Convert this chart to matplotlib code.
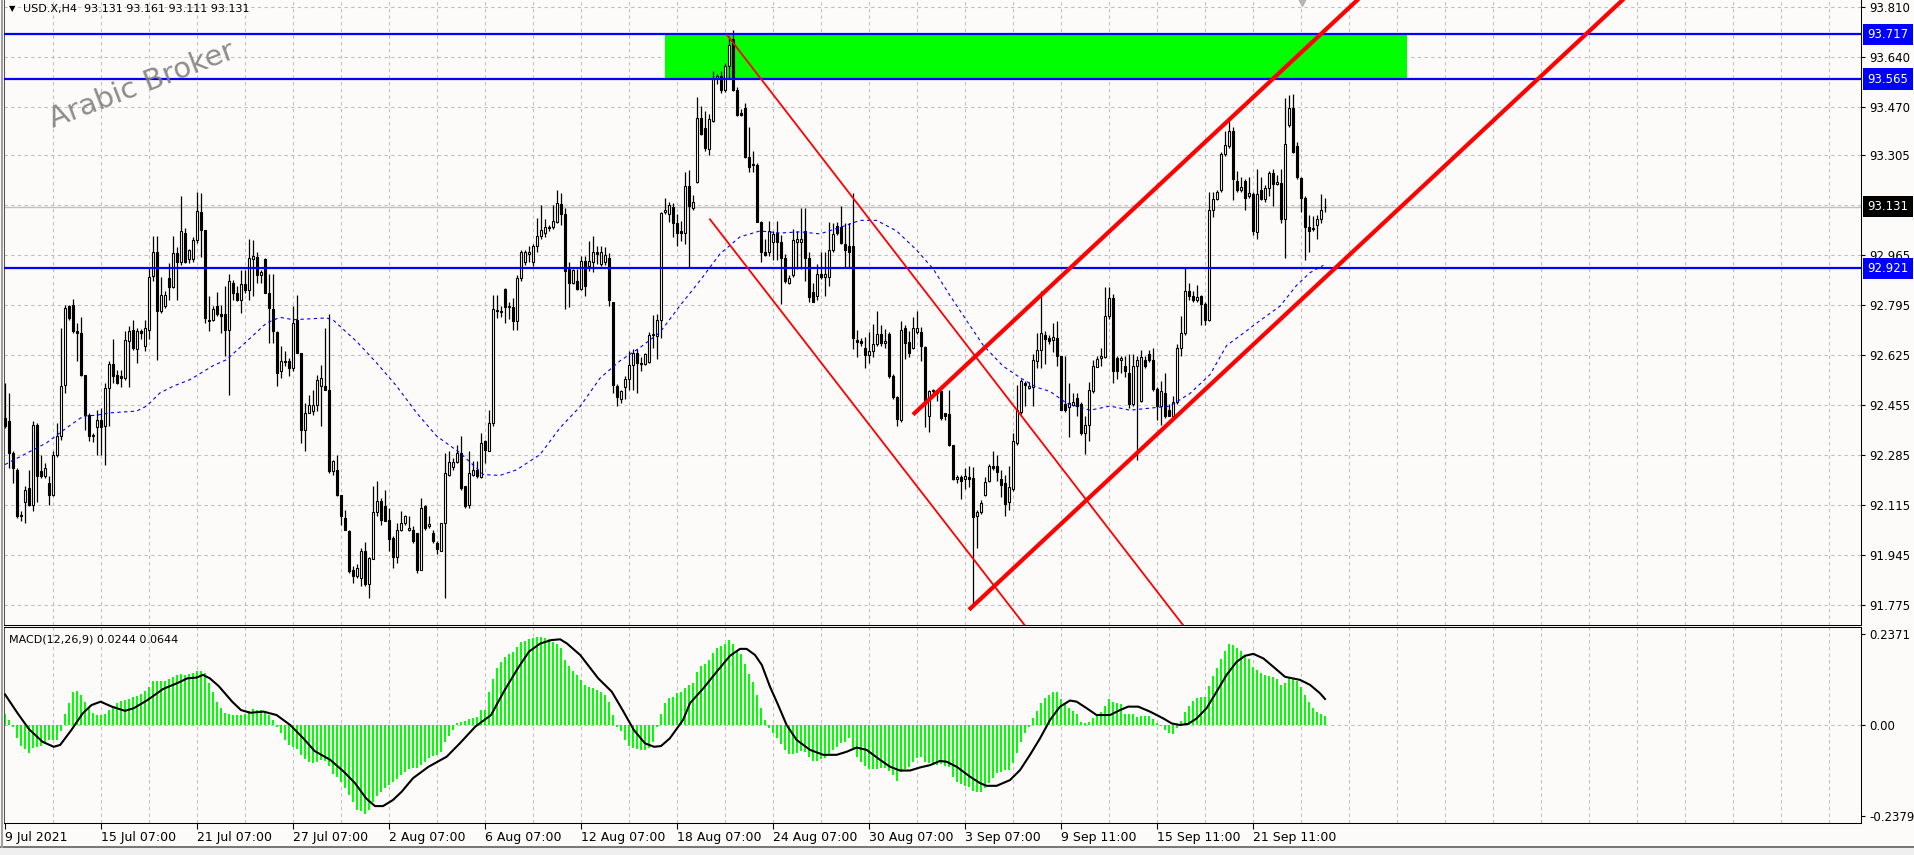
import matplotlib
matplotlib.use("Agg")
import matplotlib.pyplot as plt
import matplotlib.transforms as mtrans
from matplotlib.patches import Rectangle
import numpy as np

plt.rcParams['font.family'] = ['DejaVu Sans']

# ---------------- data (H4 bars, bar 0 = 9 Jul 2021) ----------------
opens = [
    92.412, 92.401, 92.291, 92.236, 92.083, 92.126, 92.172, 92.115, 92.386, 92.231,
    92.214, 92.191, 92.149, 92.284, 92.350, 92.525, 92.791, 92.795, 92.707, 92.701,
    92.559, 92.423, 92.350, 92.380, 92.406, 92.384, 92.512, 92.596, 92.559, 92.554,
    92.548, 92.675, 92.712, 92.646, 92.709, 92.656, 92.712, 92.896, 92.976, 92.774,
    92.791, 92.888, 92.857, 92.973, 92.942, 93.041, 92.953, 92.953, 93.016, 93.114,
    93.052, 92.746, 92.746, 92.794, 92.765, 92.765, 92.712, 92.871, 92.837, 92.814,
    92.867, 92.848, 92.952, 92.961, 92.899, 92.952, 92.837, 92.783, 92.703, 92.571,
    92.607, 92.607, 92.580, 92.746, 92.633, 92.372, 92.429, 92.435, 92.455, 92.520,
    92.520, 92.508, 92.231, 92.236, 92.149, 92.072, 92.027, 91.894, 91.874, 91.868,
    91.959, 91.845, 91.933, 92.092, 92.129, 92.112, 92.063, 92.004, 91.939, 92.032,
    92.055, 92.032, 92.032, 92.021, 91.894, 92.112, 92.044, 92.021, 91.987, 91.959,
    92.055, 92.219, 92.245, 92.262, 92.293, 92.180, 92.117, 92.219, 92.234, 92.211,
    92.333, 92.299, 92.395, 92.778, 92.771, 92.850, 92.788, 92.788, 92.742, 92.889,
    92.944, 92.971, 92.944, 92.996, 93.032, 93.041, 93.063, 93.060, 93.080, 93.141,
    93.106, 92.917, 92.872, 92.878, 92.850, 92.946, 92.928, 92.944, 92.976, 92.937,
    92.944, 92.957, 92.807, 92.521, 92.476, 92.518, 92.543, 92.593, 92.632, 92.599,
    92.595, 92.602, 92.693, 92.690, 92.745, 93.113, 93.106, 93.129, 93.074, 93.048,
    93.041, 93.201, 93.126, 93.213, 93.434, 93.399, 93.327, 93.421, 93.568, 93.577,
    93.529, 93.610, 93.700, 93.529, 93.451, 93.466, 93.301, 93.275, 93.272, 93.080,
    92.976, 92.976, 93.011, 93.041, 93.009, 92.957, 92.872, 92.898, 93.009, 93.009,
    93.048, 92.957, 92.840, 92.827, 92.901, 92.892, 92.892, 92.983, 93.064, 93.063,
    93.002, 92.998, 92.996, 92.677, 92.673, 92.651, 92.625, 92.641, 92.664, 92.699,
    92.667, 92.699, 92.554, 92.482, 92.404, 92.719, 92.671, 92.651, 92.703, 92.703,
    92.654, 92.417, 92.502, 92.502, 92.502, 92.430, 92.424, 92.319, 92.203, 92.212,
    92.203, 92.212, 92.206, 92.079, 92.092, 92.151, 92.196, 92.248, 92.248, 92.204,
    92.190, 92.127, 92.169, 92.325, 92.431, 92.530, 92.513, 92.516, 92.604, 92.644,
    92.693, 92.683, 92.676, 92.683, 92.622, 92.459, 92.448, 92.457, 92.481, 92.459,
    92.360, 92.389, 92.505, 92.584, 92.615, 92.618, 92.757, 92.821, 92.615, 92.608,
    92.587, 92.566, 92.459, 92.587, 92.471, 92.608, 92.629, 92.608, 92.509, 92.452,
    92.495, 92.438, 92.417, 92.467, 92.651, 92.700, 92.842, 92.828, 92.813, 92.828,
    92.800, 92.746, 93.118, 93.157, 93.189, 93.310, 93.338, 93.388, 93.218, 93.189,
    93.218, 93.168, 93.175, 93.043, 93.189, 93.157, 93.193, 93.246, 93.208, 93.211,
    93.090, 93.409, 93.466, 93.338, 93.228, 93.161, 93.062, 93.057, 93.069, 93.090,
    93.131]
highs = [
    92.531, 92.497, 92.299, 92.242, 92.095, 92.180, 92.236, 92.401, 92.393, 92.284,
    92.259, 92.214, 92.299, 92.395, 92.718, 92.797, 92.797, 92.816, 92.735, 92.755,
    92.559, 92.429, 92.361, 92.440, 92.446, 92.531, 92.607, 92.682, 92.576, 92.576,
    92.707, 92.724, 92.746, 92.718, 92.714, 92.746, 92.922, 93.032, 93.032, 92.893,
    92.842, 92.939, 93.032, 92.995, 93.168, 93.058, 92.986, 93.027, 93.182, 93.177,
    93.052, 92.826, 92.794, 92.839, 92.797, 92.859, 92.901, 92.882, 92.859, 92.916,
    92.916, 93.020, 93.018, 92.978, 92.916, 92.956, 92.901, 92.902, 92.707, 92.656,
    92.639, 92.616, 92.794, 92.831, 92.633, 92.463, 92.491, 92.508, 92.559, 92.591,
    92.718, 92.767, 92.270, 92.284, 92.151, 92.100, 92.032, 91.908, 91.913, 91.970,
    91.989, 91.939, 92.180, 92.197, 92.140, 92.165, 92.106, 92.010, 92.055, 92.095,
    92.083, 92.078, 92.044, 92.021, 92.140, 92.117, 92.078, 92.032, 91.993, 92.055,
    92.293, 92.299, 92.276, 92.321, 92.350, 92.180, 92.299, 92.265, 92.265, 92.361,
    92.338, 92.440, 92.831, 92.831, 92.794, 92.853, 92.807, 92.820, 92.898, 92.983,
    92.983, 92.996, 93.002, 93.093, 93.136, 93.087, 93.067, 93.135, 93.188, 93.178,
    93.126, 92.944, 92.917, 92.917, 92.963, 92.963, 93.015, 93.031, 92.996, 92.996,
    92.992, 92.972, 92.807, 92.528, 92.508, 92.554, 92.638, 92.645, 92.647, 92.619,
    92.632, 92.703, 92.761, 92.765, 93.113, 93.161, 93.145, 93.142, 93.106, 93.083,
    93.249, 93.256, 93.171, 93.505, 93.473, 93.457, 93.447, 93.594, 93.581, 93.594,
    93.620, 93.711, 93.733, 93.538, 93.464, 93.483, 93.401, 93.321, 93.278, 93.083,
    93.022, 93.083, 93.048, 93.083, 93.034, 92.970, 92.898, 93.054, 93.048, 93.126,
    93.126, 92.976, 92.872, 92.937, 92.976, 92.976, 93.080, 93.074, 93.080, 93.132,
    93.074, 93.074, 93.178, 92.710, 92.684, 92.687, 92.703, 92.732, 92.775, 92.729,
    92.713, 92.703, 92.560, 92.485, 92.742, 92.729, 92.706, 92.755, 92.775, 92.722,
    92.658, 92.508, 92.511, 92.508, 92.508, 92.430, 92.508, 92.319, 92.216, 92.216,
    92.242, 92.248, 92.245, 92.099, 92.131, 92.209, 92.254, 92.300, 92.287, 92.233,
    92.219, 92.247, 92.360, 92.523, 92.545, 92.537, 92.533, 92.629, 92.700, 92.845,
    92.707, 92.693, 92.736, 92.743, 92.622, 92.622, 92.530, 92.495, 92.495, 92.467,
    92.417, 92.533, 92.608, 92.622, 92.651, 92.856, 92.856, 92.835, 92.622, 92.622,
    92.622, 92.629, 92.629, 92.622, 92.644, 92.622, 92.644, 92.651, 92.516, 92.537,
    92.566, 92.459, 92.488, 92.665, 92.757, 92.927, 92.870, 92.842, 92.863, 92.831,
    92.807, 93.182, 93.182, 93.189, 93.317, 93.388, 93.423, 93.402, 93.253, 93.232,
    93.225, 93.232, 93.182, 93.260, 93.232, 93.203, 93.253, 93.260, 93.239, 93.260,
    93.501, 93.511, 93.515, 93.352, 93.232, 93.168, 93.104, 93.100, 93.101, 93.175,
    93.161]
lows = [
    92.378, 92.242, 92.191, 92.072, 92.061, 92.055, 92.112, 92.095, 92.126, 92.208,
    92.208, 92.115, 92.146, 92.279, 92.338, 92.497, 92.746, 92.701, 92.605, 92.554,
    92.372, 92.333, 92.330, 92.287, 92.287, 92.253, 92.384, 92.531, 92.527, 92.516,
    92.542, 92.516, 92.644, 92.599, 92.679, 92.639, 92.679, 92.876, 92.610, 92.769,
    92.786, 92.814, 92.854, 92.812, 92.933, 92.939, 92.939, 92.944, 93.007, 92.961,
    92.735, 92.707, 92.741, 92.757, 92.701, 92.622, 92.491, 92.814, 92.808, 92.769,
    92.837, 92.814, 92.826, 92.871, 92.871, 92.837, 92.667, 92.667, 92.520, 92.548,
    92.588, 92.554, 92.571, 92.633, 92.327, 92.299, 92.429, 92.423, 92.435, 92.384,
    92.508, 92.225, 92.219, 92.146, 92.049, 92.032, 91.885, 91.851, 91.868, 91.840,
    91.840, 91.800, 91.930, 92.078, 92.049, 92.061, 91.959, 91.902, 91.919, 92.027,
    92.049, 92.027, 91.987, 91.885, 91.894, 92.032, 92.038, 91.987, 91.947, 91.959,
    91.800, 92.214, 92.236, 92.259, 92.168, 92.106, 92.106, 92.214, 92.208, 92.208,
    92.259, 92.299, 92.384, 92.752, 92.755, 92.736, 92.749, 92.710, 92.710, 92.879,
    92.931, 92.944, 92.928, 92.976, 93.022, 93.028, 93.048, 93.054, 93.074, 93.067,
    92.784, 92.788, 92.866, 92.846, 92.846, 92.827, 92.911, 92.908, 92.937, 92.928,
    92.931, 92.794, 92.495, 92.453, 92.462, 92.476, 92.508, 92.508, 92.498, 92.573,
    92.593, 92.599, 92.651, 92.612, 92.684, 93.106, 93.080, 93.028, 92.996, 93.015,
    93.002, 92.924, 93.119, 93.210, 93.373, 93.321, 93.308, 93.418, 93.548, 93.516,
    93.522, 93.568, 93.526, 93.438, 93.438, 93.295, 93.249, 93.249, 93.080, 92.944,
    92.963, 92.963, 92.950, 92.950, 92.801, 92.872, 92.866, 92.891, 92.917, 92.917,
    92.879, 92.807, 92.807, 92.814, 92.885, 92.827, 92.859, 92.976, 93.034, 93.002,
    92.924, 92.924, 92.645, 92.619, 92.658, 92.580, 92.599, 92.619, 92.658, 92.658,
    92.651, 92.547, 92.476, 92.385, 92.398, 92.612, 92.619, 92.645, 92.697, 92.606,
    92.381, 92.365, 92.495, 92.469, 92.404, 92.404, 92.317, 92.199, 92.190, 92.137,
    92.170, 92.177, 91.780, 91.969, 92.086, 92.147, 92.193, 92.235, 92.196, 92.141,
    92.077, 92.098, 92.162, 92.318, 92.424, 92.452, 92.509, 92.452, 92.580, 92.580,
    92.594, 92.665, 92.637, 92.587, 92.438, 92.431, 92.346, 92.452, 92.417, 92.353,
    92.289, 92.332, 92.495, 92.584, 92.587, 92.615, 92.750, 92.530, 92.545, 92.566,
    92.552, 92.445, 92.452, 92.268, 92.467, 92.580, 92.601, 92.502, 92.403, 92.389,
    92.410, 92.417, 92.410, 92.459, 92.622, 92.693, 92.814, 92.807, 92.807, 92.729,
    92.729, 92.743, 93.097, 93.154, 93.182, 93.303, 93.331, 93.154, 93.182, 93.179,
    93.118, 93.161, 93.033, 93.022, 93.154, 93.147, 93.168, 93.133, 93.203, 93.076,
    92.955, 93.402, 93.313, 93.225, 93.111, 92.948, 92.977, 93.048, 93.022, 93.076,
    93.111]
closes = [
    92.384, 92.293, 92.242, 92.078, 92.078, 92.168, 92.115, 92.386, 92.214, 92.214,
    92.242, 92.149, 92.287, 92.350, 92.520, 92.786, 92.752, 92.707, 92.701, 92.559,
    92.423, 92.350, 92.355, 92.406, 92.380, 92.512, 92.596, 92.556, 92.531, 92.548,
    92.678, 92.707, 92.650, 92.709, 92.701, 92.718, 92.893, 92.976, 92.774, 92.829,
    92.829, 92.857, 92.973, 92.942, 93.049, 92.944, 92.984, 93.018, 93.117, 93.052,
    92.752, 92.741, 92.784, 92.765, 92.757, 92.712, 92.876, 92.837, 92.814, 92.867,
    92.848, 92.956, 92.964, 92.899, 92.907, 92.837, 92.786, 92.707, 92.565, 92.607,
    92.602, 92.582, 92.735, 92.633, 92.372, 92.429, 92.455, 92.455, 92.542, 92.548,
    92.508, 92.231, 92.265, 92.149, 92.078, 92.032, 91.891, 91.874, 91.902, 91.959,
    91.845, 91.936, 92.092, 92.129, 92.066, 92.061, 91.998, 91.939, 92.032, 92.055,
    92.078, 92.038, 91.993, 91.894, 92.106, 92.038, 92.052, 91.993, 91.964, 92.053,
    92.223, 92.262, 92.262, 92.293, 92.174, 92.112, 92.225, 92.236, 92.214, 92.327,
    92.304, 92.395, 92.782, 92.774, 92.777, 92.788, 92.794, 92.742, 92.889, 92.976,
    92.976, 92.977, 92.996, 93.032, 93.050, 93.063, 93.058, 93.083, 93.144, 93.106,
    92.911, 92.872, 92.915, 92.850, 92.946, 92.859, 92.946, 92.976, 92.970, 92.976,
    92.966, 92.814, 92.524, 92.482, 92.502, 92.543, 92.593, 92.632, 92.599, 92.595,
    92.628, 92.693, 92.699, 92.745, 93.109, 93.119, 93.136, 93.076, 93.041, 93.041,
    93.201, 93.132, 93.145, 93.431, 93.379, 93.330, 93.428, 93.568, 93.574, 93.529,
    93.610, 93.682, 93.529, 93.444, 93.444, 93.301, 93.266, 93.271, 93.080, 92.976,
    92.966, 93.048, 93.038, 93.012, 92.957, 92.879, 92.888, 93.018, 93.022, 93.022,
    92.957, 92.823, 92.807, 92.901, 92.892, 92.901, 92.983, 93.038, 93.041, 93.006,
    92.983, 92.976, 92.684, 92.671, 92.668, 92.625, 92.641, 92.664, 92.699, 92.667,
    92.672, 92.554, 92.482, 92.408, 92.712, 92.667, 92.632, 92.719, 92.719, 92.658,
    92.469, 92.502, 92.508, 92.495, 92.411, 92.417, 92.319, 92.203, 92.212, 92.196,
    92.213, 92.203, 92.076, 92.092, 92.121, 92.192, 92.248, 92.242, 92.226, 92.183,
    92.119, 92.176, 92.332, 92.438, 92.537, 92.523, 92.519, 92.608, 92.644, 92.700,
    92.679, 92.675, 92.686, 92.622, 92.438, 92.438, 92.462, 92.467, 92.452, 92.360,
    92.389, 92.506, 92.587, 92.613, 92.622, 92.757, 92.821, 92.573, 92.573, 92.615,
    92.573, 92.459, 92.587, 92.608, 92.620, 92.587, 92.608, 92.509, 92.452, 92.502,
    92.417, 92.417, 92.467, 92.651, 92.700, 92.842, 92.828, 92.814, 92.824, 92.800,
    92.746, 93.118, 93.157, 93.179, 93.310, 93.341, 93.388, 93.225, 93.189, 93.196,
    93.161, 93.178, 93.048, 93.175, 93.157, 93.193, 93.246, 93.208, 93.216, 93.090,
    93.345, 93.468, 93.317, 93.232, 93.161, 93.062, 93.048, 93.055, 93.090, 93.121,
    93.131]

# moving average (blue dashed) vertices: bar index, price
ma_bar = [0, 10.4, 15.4, 19.6, 22.9, 26.25, 32.9, 35.4, 38.75, 42.1,
          46.25, 52.1, 55.4, 60.4, 65.4, 68.75, 72.1, 80.4, 82.1, 87.9,
          92.9, 97.9, 102.9, 107.9, 113.75, 119.6, 123.75, 127.9, 133.75, 138.75,
          143.75, 148.75, 153.75, 158.75, 163.75, 168.75, 173.75, 178.75, 183.75, 188.75,
          193.75, 198.75, 203.75, 208.75, 213.75, 217.9, 222.9, 227.9, 232.1, 236.25,
          240.4, 244.6, 249.6, 254.2, 257.9, 261.25, 265.4, 271.25, 276.25, 281.25,
          286.25, 291.25, 296.25, 301.25, 305.4, 309.6, 313.75, 318.75, 322.9, 326.25,
          329.6]
ma_val = [92.253, 92.327, 92.378, 92.418, 92.421, 92.429, 92.435, 92.452, 92.497, 92.520,
          92.542, 92.590, 92.610, 92.672, 92.735, 92.754, 92.746, 92.752, 92.744, 92.672,
          92.599, 92.520, 92.429, 92.350, 92.293, 92.219, 92.216, 92.235, 92.287, 92.378,
          92.450, 92.547, 92.606, 92.651, 92.703, 92.794, 92.879, 92.970, 93.028, 93.048,
          93.041, 93.045, 93.038, 93.060, 93.084, 93.084, 93.048, 92.983, 92.918, 92.828,
          92.743, 92.658, 92.587, 92.545, 92.516, 92.502, 92.462, 92.438, 92.452, 92.438,
          92.445, 92.452, 92.495, 92.559, 92.658, 92.700, 92.743, 92.792, 92.863, 92.906,
          92.931]

# MACD(12,26,9) main values (histogram)
macd_hist = [
    0.029, 0.013, -0.004, -0.033, -0.055, -0.062, -0.072, -0.060, -0.058, -0.055,
    -0.050, -0.040, -0.038, -0.040, -0.015, 0.028, 0.058, 0.087, 0.090, 0.078,
    0.060, 0.045, 0.032, 0.025, 0.025, 0.030, 0.040, 0.048, 0.057, 0.062,
    0.066, 0.068, 0.072, 0.076, 0.080, 0.090, 0.100, 0.115, 0.116, 0.114,
    0.116, 0.121, 0.126, 0.130, 0.134, 0.132, 0.133, 0.137, 0.140, 0.142,
    0.135, 0.110, 0.085, 0.060, 0.045, 0.032, 0.030, 0.027, 0.026, 0.027,
    0.030, 0.036, 0.042, 0.040, 0.038, 0.034, 0.025, 0.012, -0.005, -0.020,
    -0.040, -0.052, -0.058, -0.062, -0.078, -0.090, -0.098, -0.100, -0.096, -0.092,
    -0.094, -0.108, -0.128, -0.135, -0.148, -0.165, -0.183, -0.200, -0.222, -0.226,
    -0.232, -0.222, -0.200, -0.186, -0.176, -0.165, -0.157, -0.148, -0.140, -0.131,
    -0.122, -0.115, -0.113, -0.113, -0.104, -0.096, -0.087, -0.080, -0.078, -0.070,
    -0.045, -0.030, -0.012, 0.005, 0.007, 0.010, 0.015, 0.019, 0.022, 0.040,
    0.040, 0.085, 0.120, 0.150, 0.165, 0.178, 0.186, 0.192, 0.203, 0.216,
    0.220, 0.224, 0.228, 0.230, 0.231, 0.228, 0.224, 0.218, 0.212, 0.200,
    0.170, 0.155, 0.140, 0.132, 0.118, 0.105, 0.100, 0.096, 0.092, 0.087,
    0.078, 0.060, 0.026, -0.005, -0.015, -0.040, -0.055, -0.060, -0.062, -0.065,
    -0.066, -0.060, -0.045, -0.005, 0.030, 0.057, 0.070, 0.074, 0.083, 0.085,
    0.096, 0.105, 0.109, 0.138, 0.155, 0.159, 0.170, 0.187, 0.202, 0.207,
    0.212, 0.222, 0.213, 0.193, 0.185, 0.159, 0.133, 0.113, 0.078, 0.044,
    0.013, -0.007, -0.022, -0.035, -0.050, -0.065, -0.077, -0.077, -0.074, -0.068,
    -0.071, -0.083, -0.094, -0.094, -0.089, -0.085, -0.078, -0.065, -0.057, -0.048,
    -0.044, -0.035, -0.061, -0.083, -0.096, -0.106, -0.115, -0.115, -0.115, -0.113,
    -0.113, -0.119, -0.131, -0.146, -0.122, -0.115, -0.109, -0.096, -0.087, -0.083,
    -0.096, -0.100, -0.103, -0.105, -0.103, -0.106, -0.109, -0.135, -0.148, -0.155,
    -0.159, -0.161, -0.172, -0.174, -0.174, -0.165, -0.152, -0.139, -0.126, -0.122,
    -0.118, -0.118, -0.100, -0.074, -0.044, -0.022, -0.004, 0.017, 0.037, 0.057,
    0.071, 0.078, 0.085, 0.085, 0.068, 0.054, 0.044, 0.037, 0.028, 0.009,
    0.006, 0.009, 0.017, 0.026, 0.033, 0.050, 0.068, 0.059, 0.057, 0.054,
    0.030, 0.030, 0.030, 0.022, 0.024, 0.024, 0.024, 0.015, 0.004, -0.002,
    -0.013, -0.022, -0.024, -0.007, 0.010, 0.033, 0.050, 0.063, 0.071, 0.074,
    0.073, 0.102, 0.128, 0.150, 0.172, 0.193, 0.211, 0.209, 0.202, 0.193,
    0.183, 0.172, 0.151, 0.145, 0.135, 0.132, 0.129, 0.125, 0.120, 0.105,
    0.111, 0.122, 0.122, 0.115, 0.100, 0.078, 0.059, 0.045, 0.033, 0.028,
    0.024]

# MACD signal line vertices
sig_bar = [0, 3.2, 6, 9.4, 12.2, 13.8, 16.6, 19.4, 21.6, 23.9,
           26.7, 30, 32.2, 35.6, 39.5, 43.4, 45.6, 47.9, 49.5, 51.2,
           53.4, 56.8, 59, 61.3, 64.6, 67.9, 71.3, 74.6, 77.4, 81.3,
           84.7, 87.5, 90.3, 92.5, 94.5, 97, 99.2, 102, 105.9, 110.4,
           113.7, 117.6, 121.5, 124.9, 128.2, 131, 133.8, 136.6, 138.8, 140.5,
           143.8, 148.3, 151.7, 154.4, 157.2, 160, 162.3, 164, 166.2, 169.5,
           171.25, 174.6, 177.9, 181.25, 183.75, 185.4, 187.5, 189.2, 191.25, 193.3,
           195.4, 197.9, 201.25, 204.6, 207.9, 210.4, 212.9, 215.4, 218.75, 221.25,
           223.75, 226.25, 228.75, 231.25, 233.75, 235.4, 237.9, 241.25, 243.75, 245.4,
           247.9, 251.25, 253.75, 256.25, 258.75, 261.25, 263.75, 266.25, 267.9, 270.4,
           272.9, 276.25, 278.75, 280.8, 283.3, 286.25, 289.6, 291.7, 293.75, 295.8,
           297.9, 300.4, 302.9, 305.4, 307.9, 310, 312.1, 314.6, 317.1, 320,
           323.75, 326.25, 328.75, 330]
sig_val = [0.080, 0.030, -0.011, -0.044, -0.057, -0.052, -0.013, 0.030, 0.052, 0.061,
           0.048, 0.037, 0.044, 0.065, 0.094, 0.111, 0.122, 0.124, 0.131, 0.122,
           0.102, 0.061, 0.039, 0.032, 0.035, 0.026, 0.000, -0.035, -0.068, -0.091,
           -0.122, -0.152, -0.192, -0.212, -0.212, -0.196, -0.174, -0.139, -0.109, -0.083,
           -0.048, -0.004, 0.026, 0.091, 0.148, 0.192, 0.213, 0.222, 0.224, 0.213,
           0.183, 0.122, 0.087, 0.039, -0.013, -0.048, -0.057, -0.055, -0.035, 0.013,
           0.057, 0.096, 0.139, 0.181, 0.199, 0.199, 0.183, 0.157, 0.100, 0.052,
           0.000, -0.039, -0.065, -0.078, -0.078, -0.070, -0.059, -0.065, -0.091, -0.109,
           -0.119, -0.119, -0.111, -0.105, -0.094, -0.096, -0.109, -0.135, -0.152, -0.159,
           -0.159, -0.144, -0.118, -0.078, -0.035, 0.013, 0.048, 0.064, 0.061, 0.044,
           0.026, 0.026, 0.039, 0.048, 0.048, 0.035, 0.017, 0.004, 0.000, 0.003,
           0.017, 0.044, 0.087, 0.131, 0.165, 0.181, 0.186, 0.174, 0.152, 0.126,
           0.118, 0.105, 0.083, 0.068]

# drawn objects
levels = [93.717, 93.565, 92.921]
bid = 93.131
zone_bars = [165, 350.5]
zone_prices = [93.565, 93.717]
# thin descending channel: (bar, price) anchors
down_upper = [(180.4, 93.717), (300.0, 91.610)]
down_lower = [(176.1, 93.090), (300.0, 90.915)]
# thick ascending channel rays
up_upper = [(227.0, 92.423), (470.0, 95.509)]
up_lower = [(241.0, 91.759), (470.0, 94.667)]

price_ticks = [93.810, 93.640, 93.470, 93.305, 92.965, 92.795, 92.625,
               92.455, 92.285, 92.115, 91.945, 91.775]
macd_ticks = [0.2371, 0.0, -0.2379]
macd_tick_labels = ['0.2371', '0.00', '-0.2379']
date_bars = [0, 24, 48, 72, 96, 120, 144, 168, 192, 216, 240, 264, 288, 312]
date_labels = ['9 Jul 2021', '15 Jul 07:00', '21 Jul 07:00', '27 Jul 07:00',
               '2 Aug 07:00', '6 Aug 07:00', '12 Aug 07:00', '18 Aug 07:00',
               '24 Aug 07:00', '30 Aug 07:00', '3 Sep 07:00', '9 Sep 11:00',
               '15 Sep 11:00', '21 Sep 11:00']

# ---------------- figure ----------------
W, H = 1914, 855
bg = '#fdfbf9'
grid_c = '#c0c0c0'
dash = (0, (3, 3))

fig = plt.figure(figsize=(W / 100, H / 100), dpi=100, facecolor=bg)
ax = fig.add_axes([4 / W, 230 / H, 1857 / W, 625 / H], facecolor=bg)
ax2 = fig.add_axes([4 / W, 32 / H, 1857 / W, 196 / H], facecolor=bg)

xmin, xmax = -0.25, 464
ax.set_xlim(xmin, xmax)
ax.set_ylim(91.707, 93.834)
ax2.set_xlim(xmin, xmax)
ax2.set_ylim(-0.2562, 0.2562)

# grid
for b in range(12, 465, 12):
    ax.axvline(b, color=grid_c, lw=0.8, ls=dash, zorder=0)
    ax2.axvline(b, color=grid_c, lw=0.8, ls=dash, zorder=0)
for p in price_ticks + [93.135]:
    ax.axhline(p, color=grid_c, lw=0.8, ls=dash, zorder=0)
ax2.axhline(0, color=grid_c, lw=0.8, ls=dash, zorder=0)

# supply zone
ax.add_patch(Rectangle((zone_bars[0], zone_prices[0]), zone_bars[1] - zone_bars[0],
                       zone_prices[1] - zone_prices[0], fc='#00ff00', ec='none', zorder=1))

# bid line
ax.axhline(bid, color='#c0c0c0', lw=1.0, zorder=2)

# candles
o = np.array(opens); h = np.array(highs); l = np.array(lows); c = np.array(closes)
x = np.arange(len(c))
up = c >= o
ax.vlines(x, l, h, color='black', lw=0.9, zorder=3)
body_lo = np.minimum(o, c)
body_h = np.abs(c - o)
ax.bar(x[up], body_h[up], bottom=body_lo[up], width=0.62, facecolor='white',
       edgecolor='black', linewidth=0.8, zorder=4)
ax.bar(x[~up], body_h[~up], bottom=body_lo[~up], width=0.62, facecolor='black',
       edgecolor='black', linewidth=0.8, zorder=4)

# moving average
ax.plot(ma_bar, ma_val, color='#0000ff', lw=0.8, ls=(0, (3, 3)), zorder=5)

# horizontal levels
for v in levels:
    ax.axhline(v, color='#0000ff', lw=1.6, zorder=5)

# trend lines
for line, lw in [(down_upper, 1.3), (down_lower, 1.3), (up_upper, 3.0), (up_lower, 3.0)]:
    ax.plot([line[0][0], line[1][0]], [line[0][1], line[1][1]], color='#ff0000',
            lw=lw, zorder=6, solid_capstyle='butt')

# chart shift marker
ax.plot([324.25], [93.834], marker='v', ms=8, color='#b4b4b4', clip_on=False, zorder=7)

# MACD
ax2.bar(np.arange(len(macd_hist)), macd_hist, width=0.72, color='#00ff00', zorder=2)
ax2.plot(sig_bar, sig_val, color='black', lw=1.5, zorder=3)

# axes styling
for a in (ax, ax2):
    a.yaxis.tick_right()
    for s in a.spines.values():
        s.set_color('black')
        s.set_linewidth(0.75)
ax.spines['top'].set_visible(False)
ax.spines['left'].set_color('#555555')
ax2.spines['left'].set_color('#555555')

ax.set_xticks([])
ax.set_yticks(price_ticks)
ax.set_yticklabels(['%.3f' % p for p in price_ticks])
ax.tick_params(axis='y', labelsize=8.5, length=3, pad=3, width=0.8)

ax2.set_yticks(macd_ticks)
ax2.set_yticklabels(macd_tick_labels)
ax2.tick_params(axis='y', labelsize=8.5, length=3, pad=3, width=0.8)
ax2.set_xticks(date_bars)
ax2.set_xticklabels(date_labels, ha='left')
ax2.tick_params(axis='x', labelsize=9, length=4, pad=2, width=0.8)

# right-axis price boxes
tr = mtrans.blended_transform_factory(ax.transAxes, ax.transData)
xb = (1867.5 - 4) / 1857
for v in levels:
    ax.text(xb, v, '%.3f' % v, transform=tr, color='white', fontsize=8.5, va='center',
            ha='left', zorder=10, clip_on=False,
            bbox=dict(boxstyle='square,pad=0.35', fc='#0000ff', ec='none'))
ax.text(xb, bid, '%.3f' % bid, transform=tr, color='white', fontsize=8.5, va='center',
        ha='left', zorder=10, clip_on=False,
        bbox=dict(boxstyle='square,pad=0.35', fc='black', ec='none'))

# texts
fig.text(9 / W, 1 - 9 / H, '\u25bc', fontsize=6, va='center', ha='left')
fig.text(23 / W, 1 - 9 / H, 'USD.X,H4  93.131 93.161 93.111 93.131', fontsize=8,
         va='center', ha='left')
fig.text(9 / W, 1 - 639 / H, 'MACD(12,26,9) 0.0244 0.0644', fontsize=8,
         va='center', ha='left')
fig.text(142 / W, 1 - 85 / H, 'Arabic Broker', fontsize=21, color='#808080',
         rotation=21, va='center', ha='center', alpha=0.9)

# window chrome
fig.add_artist(Rectangle((0, 0), 1, 8 / H, transform=fig.transFigure,
                         fc='#efefef', ec='none'))
fig.add_artist(plt.Line2D([0, 1], [8 / H, 8 / H], transform=fig.transFigure,
                          color='#606060', lw=1.2))
fig.add_artist(plt.Line2D([1.5 / W, 1.5 / W], [8 / H, 1], transform=fig.transFigure,
                          color='#a0a0a0', lw=1.5))

fig.savefig('out.png', dpi=100, facecolor=bg)
